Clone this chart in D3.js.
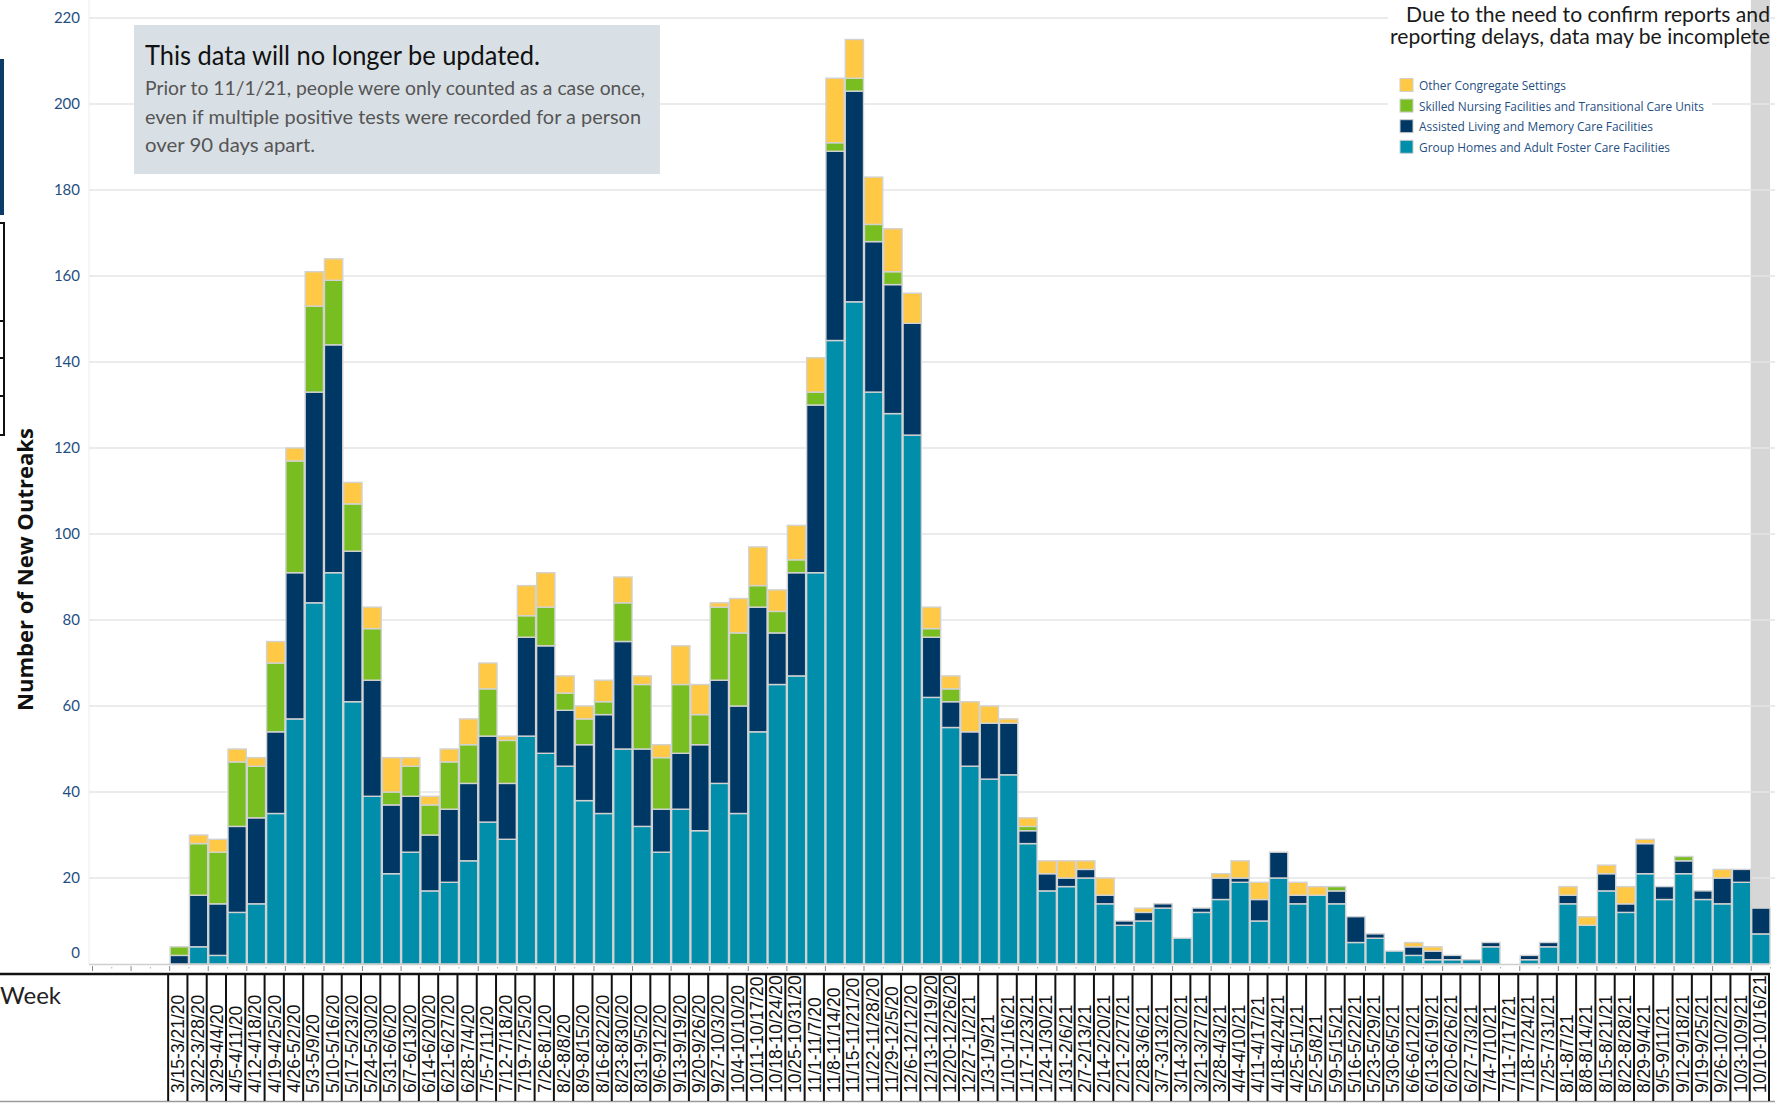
<!DOCTYPE html>
<html>
<head>
<meta charset="utf-8">
<script src="https://cdn.jsdelivr.net/npm/d3@7"></script>
<style>
  html, body { margin: 0; padding: 0; background: #fff; overflow: hidden; }
  svg { display: block; }
</style>
</head>
<body>
<svg id="chart" width="1775" height="1103"></svg>
<script>
// ---------- DATA ----------
const weeks = [
  "3/15-3/21/20","3/22-3/28/20","3/29-4/4/20","4/5-4/11/20","4/12-4/18/20","4/19-4/25/20",
  "4/26-5/2/20","5/3-5/9/20","5/10-5/16/20","5/17-5/23/20","5/24-5/30/20","5/31-6/6/20",
  "6/7-6/13/20","6/14-6/20/20","6/21-6/27/20","6/28-7/4/20","7/5-7/11/20","7/12-7/18/20",
  "7/19-7/25/20","7/26-8/1/20","8/2-8/8/20","8/9-8/15/20","8/16-8/22/20","8/23-8/30/20",
  "8/31-9/5/20","9/6-9/12/20","9/13-9/19/20","9/20-9/26/20","9/27-10/3/20","10/4-10/10/20",
  "10/11-10/17/20","10/18-10/24/20","10/25-10/31/20","11/1-11/7/20","11/8-11/14/20","11/15-11/21/20",
  "11/22-11/28/20","11/29-12/5/20","12/6-12/12/20","12/13-12/19/20","12/20-12/26/20","12/27-1/2/21",
  "1/3-1/9/21","1/10-1/16/21","1/17-1/23/21","1/24-1/30/21","1/31-2/6/21","2/7-2/13/21",
  "2/14-2/20/21","2/21-2/27/21","2/28-3/6/21","3/7-3/13/21","3/14-3/20/21","3/21-3/27/21",
  "3/28-4/3/21","4/4-4/10/21","4/11-4/17/21","4/18-4/24/21","4/25-5/1/21","5/2-5/8/21",
  "5/9-5/15/21","5/16-5/22/21","5/23-5/29/21","5/30-6/5/21","6/6-6/12/21","6/13-6/19/21",
  "6/20-6/26/21","6/27-7/3/21","7/4-7/10/21","7/11-7/17/21","7/18-7/24/21","7/25-7/31/21",
  "8/1-8/7/21","8/8-8/14/21","8/15-8/21/21","8/22-8/28/21","8/29-9/4/21","9/5-9/11/21",
  "9/12-9/18/21","9/19-9/25/21","9/26-10/2/21","10/3-10/9/21","10/10-10/16/21"
];
const leadingEmptyWeeks = 4;

const groupHomes = [
  0,4,2,12,14,35,57,84,91,61,39,21,26,17,19,24,33,29,53,49,46,38,35,50,32,26,36,31,42,35,
  54,65,67,91,145,154,133,128,123,62,55,46,43,44,28,17,18,20,14,9,10,13,6,12,15,19,10,20,
  14,16,14,5,6,3,2,1,1,1,4,0,1,4,14,9,17,12,21,15,21,15,14,19,7
];
const assistedLiving = [
  2,12,12,20,20,19,34,49,53,35,27,16,13,13,17,18,20,13,23,25,13,13,23,25,18,10,13,20,24,25,
  29,12,24,39,44,49,35,30,26,14,6,8,13,12,3,4,2,2,2,1,2,1,0,1,5,1,5,6,
  2,0,3,6,1,0,2,2,1,0,1,0,1,1,2,0,4,2,7,3,3,2,6,3,6
];
const skilledNursing = [
  2,12,12,15,12,16,26,20,15,11,12,3,7,7,11,9,11,10,5,9,4,6,3,9,15,12,16,7,17,17,
  5,5,3,3,2,3,4,3,0,2,3,0,0,0,1,0,0,0,0,0,0,0,0,0,0,0,0,0,
  0,0,1,0,0,0,0,0,0,0,0,0,0,0,0,0,0,0,0,0,1,0,0,0,0
];
const otherCongregate = [
  0,2,3,3,2,5,3,8,5,5,5,8,2,2,3,6,6,1,7,8,4,3,5,6,2,3,9,7,1,8,
  9,5,8,8,15,9,11,10,7,5,3,7,4,1,2,3,4,2,4,0,1,0,0,0,1,4,4,0,
  3,2,0,0,0,0,1,1,0,0,0,0,0,0,2,2,2,4,1,0,0,0,2,0,0
];

const seriesNames = [
  "Group Homes and Adult Foster Care Facilities",
  "Assisted Living and Memory Care Facilities",
  "Skilled Nursing Facilities and Transitional Care Units",
  "Other Congregate Settings"
];
const seriesColors = ["#008eaa", "#003865", "#78be20", "#ffc845"];
const yTicks = [0,20,40,60,80,100,120,140,160,180,200,220];

// ---------- SETUP ----------
const svg = d3.select("#chart");
const W = 1775, H = 1103;

const rows = weeks.map((w, i) => ({
  week: w,
  slot: i + leadingEmptyWeeks,
  [seriesNames[0]]: groupHomes[i],
  [seriesNames[1]]: assistedLiving[i],
  [seriesNames[2]]: skilledNursing[i],
  [seriesNames[3]]: otherCongregate[i]
}));

const x = d3.scaleBand()
  .domain(d3.range(weeks.length + leadingEmptyWeeks))
  .range([91, 1769])
  .padding(0);
const y = d3.scaleLinear().domain([0, 220]).range([964, 18]);
const color = d3.scaleOrdinal().domain(seriesNames).range(seriesColors);

const stacked = d3.stack().keys(seriesNames)(rows);

// ---------- LEFT DECORATION (cut-off dashboard elements) ----------
svg.append("rect").attr("x", -2).attr("y", 59).attr("width", 6).attr("height", 156).attr("fill", "#0d3c6b");
const deco = svg.append("g").attr("fill", "none").attr("stroke", "#111").attr("stroke-width", 2);
deco.append("rect").attr("x", -10).attr("y", 223).attr("width", 14).attr("height", 212);
[321, 358, 396].forEach(v => deco.append("line").attr("x1", -10).attr("x2", 4).attr("y1", v).attr("y2", v));

// ---------- HIGHLIGHT BAND FOR LAST WEEK ----------
const lastSlot = rows[rows.length - 1].slot;
svg.append("rect")
  .attr("x", x(lastSlot) + 1)
  .attr("y", 0)
  .attr("width", x.bandwidth())
  .attr("height", y(0))
  .attr("fill", "#d6d6d6");

// ---------- GRID ----------
const grid = svg.append("g");
grid.selectAll("line")
  .data(yTicks.filter(d => d > 0))
  .join("line")
  .attr("x1", 89).attr("x2", W)
  .attr("y1", d => y(d)).attr("y2", d => y(d))
  .attr("stroke", "#e4e4e4").attr("stroke-width", 1.5);
svg.append("line").attr("x1", 89).attr("x2", 89).attr("y1", 0).attr("y2", y(0))
  .attr("stroke", "#ececec").attr("stroke-width", 1);

// ---------- BARS ----------
svg.append("g")
  .attr("transform", "translate(1.5,0)")
  .selectAll("g")
  .data(stacked)
  .join("g")
  .attr("fill", d => color(d.key))
  .selectAll("rect")
  .data(d => d.filter(s => s[1] - s[0] > 0))
  .join("rect")
  .attr("x", d => x(d.data.slot) + 0.5)
  .attr("width", x.bandwidth() - 1)
  .attr("y", d => y(d[1]))
  .attr("height", d => y(d[0]) - y(d[1]))
  .attr("stroke", "#d2d2d2")
  .attr("stroke-width", 1.4);

// baseline
svg.append("line").attr("x1", 89).attr("x2", 1769).attr("y1", y(0) + 0.5).attr("y2", y(0) + 0.5)
  .attr("stroke", "#cfcfcf").attr("stroke-width", 1.5);

// ---------- Y AXIS ----------
const yAxisG = svg.append("g")
  .attr("font-family", "Lato, 'Open Sans', sans-serif")
  .attr("font-size", 15)
  .attr("fill", "#1f4f82");
yAxisG.selectAll("text")
  .data(yTicks)
  .join("text")
  .attr("x", 80)
  .attr("y", d => d === 0 ? y(d) - 6 : y(d) + 5)
  .attr("text-anchor", "end")
  .text(d => d);

svg.append("text")
  .attr("transform", `translate(33, ${(428 + 711) / 2}) rotate(-90)`)
  .attr("text-anchor", "middle")
  .attr("font-family", "'Open Sans', Lato, sans-serif")
  .attr("font-weight", 700)
  .attr("font-size", 22)
  .attr("fill", "#111")
  .attr("textLength", 283)
  .attr("lengthAdjust", "spacingAndGlyphs")
  .text("Number of New Outreaks");

// ---------- X AXIS TICKS ----------
const step = x.step();
const boundaries = d3.range(weeks.length + leadingEmptyWeeks + 1);
const xStart = x.range()[0];
svg.append("g").attr("transform", "translate(1.5,0)").selectAll("line")
  .data(boundaries)
  .join("line")
  .attr("x1", k => xStart + k * step)
  .attr("x2", k => xStart + k * step)
  .attr("y1", k => k % 2 === 0 ? 966 : 967)
  .attr("y2", k => k % 2 === 0 ? 971 : 968.5)
  .attr("stroke", k => k % 2 === 0 ? "#8a8a8a" : "#b0b0b0")
  .attr("stroke-width", 1);

// ---------- LABEL TABLE ----------
const table = svg.append("g");
table.append("line").attr("x1", 0).attr("x2", 1770).attr("y1", 974).attr("y2", 974)
  .attr("stroke", "#111").attr("stroke-width", 2.5);
table.append("line").attr("x1", 0).attr("x2", W).attr("y1", 1101.5).attr("y2", 1101.5)
  .attr("stroke", "#9a9a9a").attr("stroke-width", 1.5);
table.selectAll("line.sep")
  .data(boundaries.filter(k => k >= leadingEmptyWeeks))
  .join("line")
  .attr("class", "sep")
  .attr("x1", k => xStart + k * step)
  .attr("x2", k => xStart + k * step)
  .attr("y1", 974).attr("y2", 1101)
  .attr("stroke", "#111").attr("stroke-width", 2);

table.selectAll("text")
  .data(rows)
  .join("text")
  .attr("transform", d => `translate(${x(d.slot) + x.bandwidth() / 2 + 6.5}, 1093) rotate(-90)`)
  .attr("text-anchor", "start")
  .attr("font-family", "'Liberation Sans', Arial, sans-serif")
  .attr("font-size", 17.5)
  .attr("fill", "#111")
  .text(d => d.week);

svg.append("text")
  .attr("x", 0).attr("y", 1004)
  .attr("font-family", "Lato, 'Open Sans', sans-serif")
  .attr("font-size", 24)
  .attr("fill", "#222")
  .text("Week");

// ---------- ANNOTATION BOX ----------
const ann = svg.append("g");
ann.append("rect").attr("x", 134).attr("y", 25).attr("width", 526).attr("height", 149).attr("fill", "#d9e0e5");
ann.append("text")
  .attr("x", 145).attr("y", 65)
  .attr("font-family", "Lato, sans-serif").attr("font-size", 26).attr("fill", "#111")
  .attr("textLength", 395).attr("lengthAdjust", "spacingAndGlyphs")
  .text("This data will no longer be updated.");
const bodyLines = [
  { t: "Prior to 11/1/21, people were only counted as a case once,", len: 500 },
  { t: "even if multiple positive tests were recorded for a person", len: 496 },
  { t: "over 90 days apart.", len: 170 }
];
ann.selectAll("text.body")
  .data(bodyLines)
  .join("text")
  .attr("class", "body")
  .attr("x", 145)
  .attr("y", (d, i) => 95 + i * 28.5)
  .attr("font-family", "Lato, sans-serif").attr("font-size", 20).attr("fill", "#555")
  .attr("textLength", d => d.len).attr("lengthAdjust", "spacingAndGlyphs")
  .text(d => d.t);

// ---------- TOP-RIGHT NOTE ----------
svg.append("rect").attr("x", 1388).attr("y", 0).attr("width", x(lastSlot) + 1 - 1388).attr("height", 52).attr("fill", "#fff");
const note = [
  { t: "Due to the need to confirm reports and", len: 364, y: 22 },
  { t: "reporting delays, data may be incomplete", len: 380, y: 44 }
];
svg.selectAll("text.note")
  .data(note)
  .join("text")
  .attr("class", "note")
  .attr("x", 1770).attr("y", d => d.y)
  .attr("text-anchor", "end")
  .attr("font-family", "Lato, sans-serif").attr("font-size", 21).attr("fill", "#1a1a1a")
  .attr("textLength", d => d.len).attr("lengthAdjust", "spacingAndGlyphs")
  .text(d => d.t);

// ---------- LEGEND ----------
const legendOrder = [3, 2, 1, 0];
const legendLens = { 3: 147, 2: 285, 1: 234, 0: 251 };
svg.append("rect").attr("x", 1388).attr("y", 62).attr("width", 324).attr("height", 100).attr("fill", "#fff");
const lg = svg.append("g").selectAll("g")
  .data(legendOrder)
  .join("g")
  .attr("transform", (d, i) => `translate(1400, ${85 + i * 20.6})`);
lg.append("rect")
  .attr("x", 0).attr("y", -6.5).attr("width", 13).attr("height", 13)
  .attr("fill", d => seriesColors[d])
  .attr("stroke", "#cfcfcf").attr("stroke-width", 1);
lg.append("text")
  .attr("x", 19).attr("y", 5)
  .attr("font-family", "'Open Sans', Lato, sans-serif").attr("font-size", 13.5).attr("fill", "#1f4f82")
  .attr("textLength", d => legendLens[d]).attr("lengthAdjust", "spacingAndGlyphs")
  .text(d => seriesNames[d]);
</script>
</body>
</html>
